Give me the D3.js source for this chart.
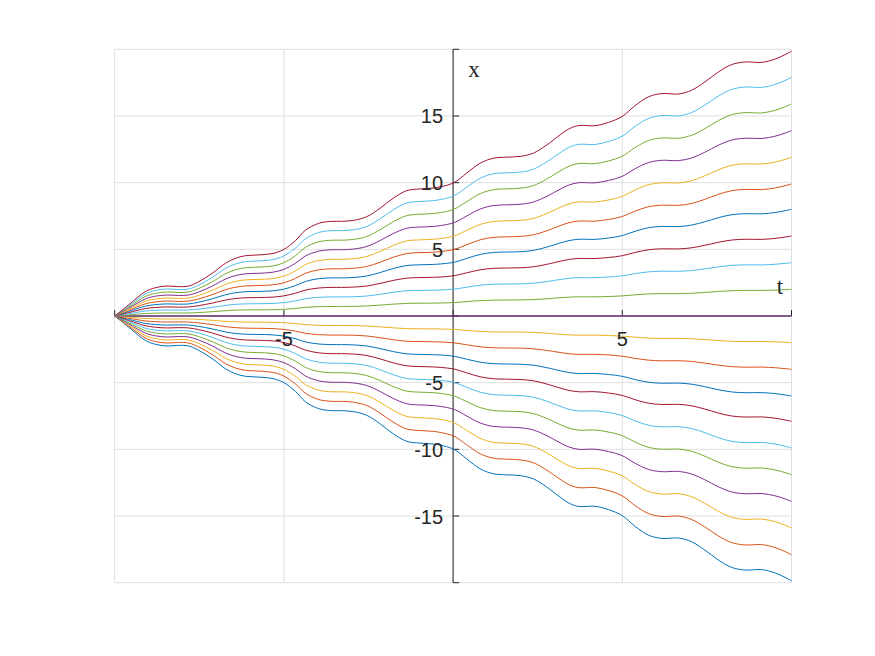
<!DOCTYPE html>
<html>
<head>
<meta charset="utf-8">
<script src="https://cdn.jsdelivr.net/npm/d3@7"></script>
<style>
  body { margin: 0; background: #fff; }
  svg { display: block; }
</style>
</head>
<body>
<div id="chart"></div>
<script>
// top curve (t, x)
var baseT = [-10, -9.59, -9.10, -8.80, -8.45, -8.11, -7.81, -7.52, -7.12, -6.73, -6.44, -6.14, -5.74, -5.35,
  -5.02, -4.66, -4.37, -3.97, -3.58, -3.30, -2.95, -2.55, -2.16, -1.77, -1.37, -0.98, -0.58, -0.19, 0.06,
  0.40, 0.80, 1.19, 1.58, 1.98, 2.37, 2.77, 3.16, 3.40, 3.70, 4.19, 4.59, 5.00, 5.38, 5.77, 6.16, 6.66,
  7.05, 7.44, 7.84, 8.23, 8.63, 9.12, 9.51, 9.81, 10];
var baseX = [0, 0.83, 1.82, 2.12, 2.25, 2.20, 2.25, 2.57, 3.20, 3.95, 4.32, 4.52, 4.58, 4.68,
  4.97, 5.65, 6.42, 6.95, 7.10, 7.10, 7.17, 7.45, 8.08, 8.83, 9.40, 9.53, 9.60, 9.80, 10.05,
  10.71, 11.46, 11.83, 11.91, 11.97, 12.21, 12.83, 13.58, 14.00, 14.28, 14.27, 14.52, 14.97, 15.78, 16.43, 16.68, 16.65,
  16.93, 17.55, 18.30, 18.85, 19.05, 19.02, 19.26, 19.60, 19.86];

// value of every curve at t = 10, bottom to top
var endValues = [-19.86, -17.9, -15.9, -13.9, -11.9, -9.9, -7.9, -6.0, -4.0, -2.0, 0,
  2.0, 4.0, 6.0, 8.0, 9.9, 11.9, 13.9, 15.9, 17.9, 19.86];

var colors = ["#0072BD", "#D95319", "#EDB120", "#7E2F8E", "#77AC30", "#4DBEEE", "#A2142F"];

var tTicks = [-10, -5, 0, 5, 10];
var xTicks = [-20, -15, -10, -5, 0, 5, 10, 15, 20];
var tTickLabels = [-5, 5];
var xTickLabels = [-15, -10, -5, 5, 10, 15];

var svgWidth = 875;
var svgHeight = 656;

var margin = { top: 49.3, right: 83.5, bottom: 73.3, left: 114.7 };
var width = svgWidth - margin.left - margin.right;
var height = svgHeight - margin.top - margin.bottom;

var svg = d3.select("#chart")
  .append("svg")
  .attr("width", svgWidth)
  .attr("height", svgHeight);

svg.append("rect").attr("width", svgWidth).attr("height", svgHeight).attr("fill", "#fff");

var chartGroup = svg.append("g")
  .attr("transform", `translate(${margin.left}, ${margin.top})`);

var tScale = d3.scaleLinear().domain([-10, 10]).range([0, width]);
var xScale = d3.scaleLinear().domain([-20, 20]).range([height, 0]);

// grid
chartGroup.selectAll("line.vgrid")
  .data(tTicks).enter().append("line")
  .attr("x1", d => tScale(d)).attr("x2", d => tScale(d))
  .attr("y1", 0).attr("y2", height)
  .attr("stroke", "#dfdfdf").attr("stroke-width", 1);

chartGroup.selectAll("line.hgrid")
  .data(xTicks).enter().append("line")
  .attr("y1", d => xScale(d)).attr("y2", d => xScale(d))
  .attr("x1", 0).attr("x2", width)
  .attr("stroke", "#dfdfdf").attr("stroke-width", 1);

// axes through origin
var axisColor = "#262626";
var x0 = tScale(0), y0 = xScale(0);

chartGroup.append("line")
  .attr("x1", 0).attr("x2", width).attr("y1", y0).attr("y2", y0)
  .attr("stroke", axisColor).attr("stroke-width", 1);
chartGroup.append("line")
  .attr("x1", x0).attr("x2", x0).attr("y1", 0).attr("y2", height)
  .attr("stroke", axisColor).attr("stroke-width", 1);

chartGroup.selectAll("line.ttick")
  .data(tTicks).enter().append("line")
  .attr("x1", d => tScale(d)).attr("x2", d => tScale(d))
  .attr("y1", y0).attr("y2", y0 - 6)
  .attr("stroke", axisColor).attr("stroke-width", 1);

chartGroup.selectAll("line.xtick")
  .data(xTicks).enter().append("line")
  .attr("y1", d => xScale(d)).attr("y2", d => xScale(d))
  .attr("x1", x0).attr("x2", x0 + 6)
  .attr("stroke", axisColor).attr("stroke-width", 1);

// curves
var line = d3.line()
  .x(d => tScale(d[0]))
  .y(d => xScale(d[1]))
  .curve(d3.curveCatmullRom.alpha(0.5));

var baseEnd = baseX[baseX.length - 1];

endValues.forEach(function(v, i) {
  var pts = baseT.map((t, j) => [t, baseX[j] * v / baseEnd]);
  chartGroup.append("path")
    .datum(pts)
    .attr("d", line)
    .attr("fill", "none")
    .attr("stroke", colors[i % colors.length])
    .attr("stroke-width", 1);
});

// tick labels
chartGroup.selectAll("text.tlab")
  .data(tTickLabels).enter().append("text")
  .attr("x", d => tScale(d))
  .attr("y", y0 + 30)
  .attr("text-anchor", "middle")
  .attr("font-family", "'Liberation Sans', Arial, sans-serif")
  .attr("font-size", "20px")
  .attr("fill", axisColor)
  .text(d => d);

chartGroup.selectAll("text.xlab")
  .data(xTickLabels).enter().append("text")
  .attr("x", x0 - 10)
  .attr("y", d => xScale(d) + 7.5)
  .attr("text-anchor", "end")
  .attr("font-family", "'Liberation Sans', Arial, sans-serif")
  .attr("font-size", "20px")
  .attr("fill", axisColor)
  .text(d => d);

// axis names
chartGroup.append("text")
  .attr("x", x0 + 21).attr("y", 76.7 - margin.top)
  .attr("text-anchor", "middle")
  .attr("font-family", "'Liberation Serif', 'Times New Roman', serif")
  .attr("font-size", "23px")
  .attr("fill", axisColor)
  .text("x");

chartGroup.append("text")
  .attr("x", 780 - margin.left).attr("y", 294 - margin.top)
  .attr("text-anchor", "middle")
  .attr("font-family", "'Liberation Serif', 'Times New Roman', serif")
  .attr("font-size", "23px")
  .attr("fill", axisColor)
  .text("t");
</script>
</body>
</html>
